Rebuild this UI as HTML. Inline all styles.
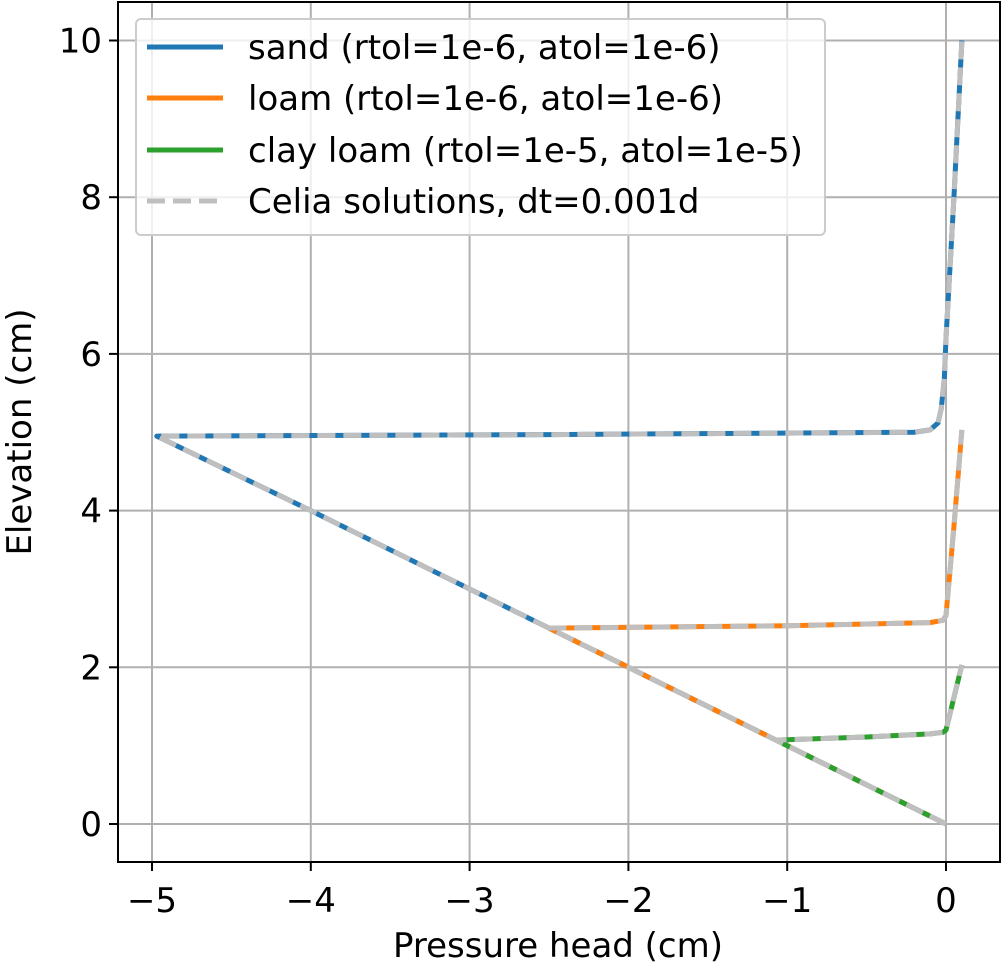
<!DOCTYPE html>
<html><head><meta charset="utf-8"><style>
body{margin:0;background:#fff}
svg{font-family:"DejaVu Sans","Liberation Sans",sans-serif}
</style></head><body>
<svg width="1004" height="967" viewBox="0 0 1004 967">
<g id="grid"></g>
<g id="series"></g>
<rect x="118" y="2" width="882" height="860" fill="none" stroke="#000" stroke-width="2"/>
<g id="ticks"></g>
<text x="558" y="957" font-size="34" text-anchor="middle">Pressure head (cm)</text>
<text transform="translate(31,432) rotate(-90)" font-size="34" text-anchor="middle">Elevation (cm)</text>
<g>
<rect x="136" y="19" width="689" height="216" rx="5" fill="#fff" fill-opacity="0.8" stroke="#ccc" stroke-width="2"/>
<line x1="147" y1="47" x2="223" y2="47" stroke="#1f77b4" stroke-width="5"/>
<text x="248" y="59" font-size="34">sand (rtol=1e-6, atol=1e-6)</text>
<line x1="147" y1="98" x2="223" y2="98" stroke="#ff7f0e" stroke-width="5"/>
<text x="248" y="110" font-size="34">loam (rtol=1e-6, atol=1e-6)</text>
<line x1="147" y1="150" x2="223" y2="150" stroke="#2ca02c" stroke-width="5"/>
<text x="248" y="162" font-size="34">clay loam (rtol=1e-5, atol=1e-5)</text>
<line x1="147" y1="201" x2="223" y2="201" stroke="#bfbfbf" stroke-width="5" stroke-dasharray="18,8"/>
<text x="248" y="213" font-size="34">Celia solutions, dt=0.001d</text>
</g>
</svg>
<script>
const xTicks=[-5,-4,-3,-2,-1,0];
const yTicks=[0,2,4,6,8,10];
const sandH=[0,-1,-2,-3,-4,-4.97,-2.5,-0.2,-0.1,-0.05,-0.03,-0.01,0,0.05,0.1];
const sandZ=[0,1,2,3,4,4.95,4.97,5.0,5.03,5.12,5.3,5.7,6.2,8,10];
const loamH=[0,-1,-2,-2.5,-1,-0.1,-0.02,0,0.05,0.1];
const loamZ=[0,1,2,2.5,2.53,2.57,2.6,2.66,3.8,5.03];
const clayH=[0,-0.5,-1.07,-0.5,-0.1,-0.02,0,0.1];
const clayZ=[0,0.5,1.07,1.11,1.15,1.17,1.2,2.03];
const X=v=>946+(v-0)*158.8;
const Y=v=>824-v*78.35;
const NS='http://www.w3.org/2000/svg';
const grid=document.getElementById('grid'),ticks=document.getElementById('ticks'),ser=document.getElementById('series');
function mk(tag,attrs,parent){const e=document.createElementNS(NS,tag);for(const k in attrs)e.setAttribute(k,attrs[k]);parent.appendChild(e);return e;}
xTicks.forEach(t=>{
 const g=mk('line',{x1:X(t),x2:X(t),y1:2,y2:862,stroke:'#b0b0b0','stroke-width':2},grid);
 
 
 mk('line',{x1:X(t),x2:X(t),y1:862,y2:871,stroke:'#000','stroke-width':2},ticks);
 const tx=mk('text',{x:X(t),y:912,'font-size':34,'text-anchor':'middle'},ticks);
 tx.textContent=(t<0?'\u2212'+(-t):t);
 
 
});
yTicks.forEach(t=>{
 const g=mk('line',{x1:118,x2:1000,y1:Y(t),y2:Y(t),stroke:'#b0b0b0','stroke-width':2},grid);
 
 
 mk('line',{x1:109,x2:118,y1:Y(t),y2:Y(t),stroke:'#000','stroke-width':2},ticks);
 const tx=mk('text',{x:102,y:Y(t)+12,'font-size':34,'text-anchor':'end'},ticks);
 tx.textContent=t;
 
 
});
function pts(h,z){return h.map((v,i)=>X(v)+','+Y(z[i])).join(' ');}
[[sandH,sandZ,'#1f77b4','sand'],[loamH,loamZ,'#ff7f0e','loam'],[clayH,clayZ,'#2ca02c','clay-loam']].forEach(([h,z,c,n])=>{
 const p=mk('polyline',{points:pts(h,z),fill:'none',stroke:c,'stroke-width':5,'stroke-linejoin':'round'},ser);
 
 
});
[[sandH,sandZ,'sand'],[loamH,loamZ,'loam'],[clayH,clayZ,'clay-loam']].forEach(([h,z,n])=>{
 const p=mk('polyline',{points:pts(h,z),fill:'none',stroke:'#bfbfbf','stroke-width':5,'stroke-dasharray':'18,8','stroke-linejoin':'round'},ser);
 
 
});
</script>
</body></html>
